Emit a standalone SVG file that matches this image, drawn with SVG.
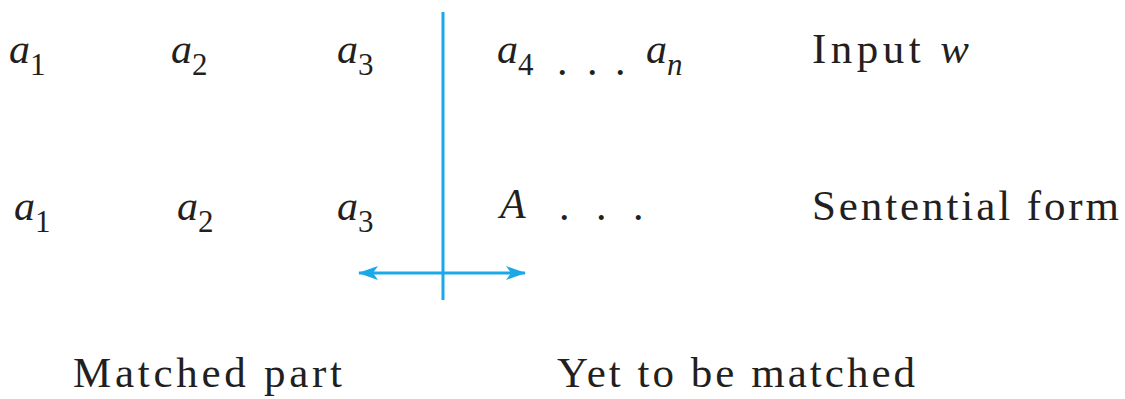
<svg xmlns="http://www.w3.org/2000/svg" width="1125" height="399" viewBox="0 0 1125 399">
<defs>
<marker id="ah" viewBox="0 0 20 14" refX="19" refY="7" markerWidth="20" markerHeight="14" markerUnits="userSpaceOnUse" orient="auto-start-reverse">
<path d="M0,0 L20,7 L0,14 L5,7 Z" fill="#1aa9e6"/>
</marker>
</defs>
<g id="connectors" stroke="#1aa9e6" stroke-width="3" fill="none">
<line x1="443" y1="12" x2="443" y2="300"/>
<line x1="359" y1="273" x2="525" y2="273" marker-start="url(#ah)" marker-end="url(#ah)"/>
</g>
<g id="row1" fill="#231f20">
<text font-family="Liberation Serif" font-size="42" font-style="italic" x="9" y="63">a<tspan font-style="normal" font-size="31" dy="12">1</tspan></text>
<text font-family="Liberation Serif" font-size="42" font-style="italic" x="171" y="63">a<tspan font-style="normal" font-size="31" dy="12">2</tspan></text>
<text font-family="Liberation Serif" font-size="42" font-style="italic" x="337" y="63">a<tspan font-style="normal" font-size="31" dy="12">3</tspan></text>
<text font-family="Liberation Serif" font-size="42" font-style="italic" x="497" y="63">a<tspan font-style="normal" font-size="31" dy="12">4</tspan></text>
<text font-family="Liberation Serif" font-size="42" x="557" y="75">.</text>
<text font-family="Liberation Serif" font-size="42" x="587" y="75">.</text>
<text font-family="Liberation Serif" font-size="42" x="615" y="75">.</text>
<text font-family="Liberation Serif" font-size="42" font-style="italic" x="646" y="63">a<tspan font-size="31" dy="12">n</tspan></text>
<text font-family="Liberation Serif" font-size="43" x="812" y="63" textLength="157" lengthAdjust="spacing">Input <tspan font-style="italic">w</tspan></text>
</g>
<g id="row2" fill="#231f20">
<text font-family="Liberation Serif" font-size="42" font-style="italic" x="14" y="220">a<tspan font-style="normal" font-size="31" dy="12">1</tspan></text>
<text font-family="Liberation Serif" font-size="42" font-style="italic" x="177" y="220">a<tspan font-style="normal" font-size="31" dy="12">2</tspan></text>
<text font-family="Liberation Serif" font-size="42" font-style="italic" x="337" y="220">a<tspan font-style="normal" font-size="31" dy="12">3</tspan></text>
<text font-family="Liberation Serif" font-size="42" font-style="italic" x="500" y="218">A</text>
<text font-family="Liberation Serif" font-size="42" x="559" y="220">.</text>
<text font-family="Liberation Serif" font-size="42" x="596" y="220">.</text>
<text font-family="Liberation Serif" font-size="42" x="633" y="220">.</text>
<text font-family="Liberation Serif" font-size="43" x="812" y="220" textLength="307" lengthAdjust="spacing">Sentential form</text>
</g>
<g id="labels" fill="#231f20">
<text font-family="Liberation Serif" font-size="43" x="73" y="387" textLength="269" lengthAdjust="spacing">Matched part</text>
<text font-family="Liberation Serif" font-size="43" x="557" y="387" textLength="358" lengthAdjust="spacing">Yet to be matched</text>
</g>
</svg>
